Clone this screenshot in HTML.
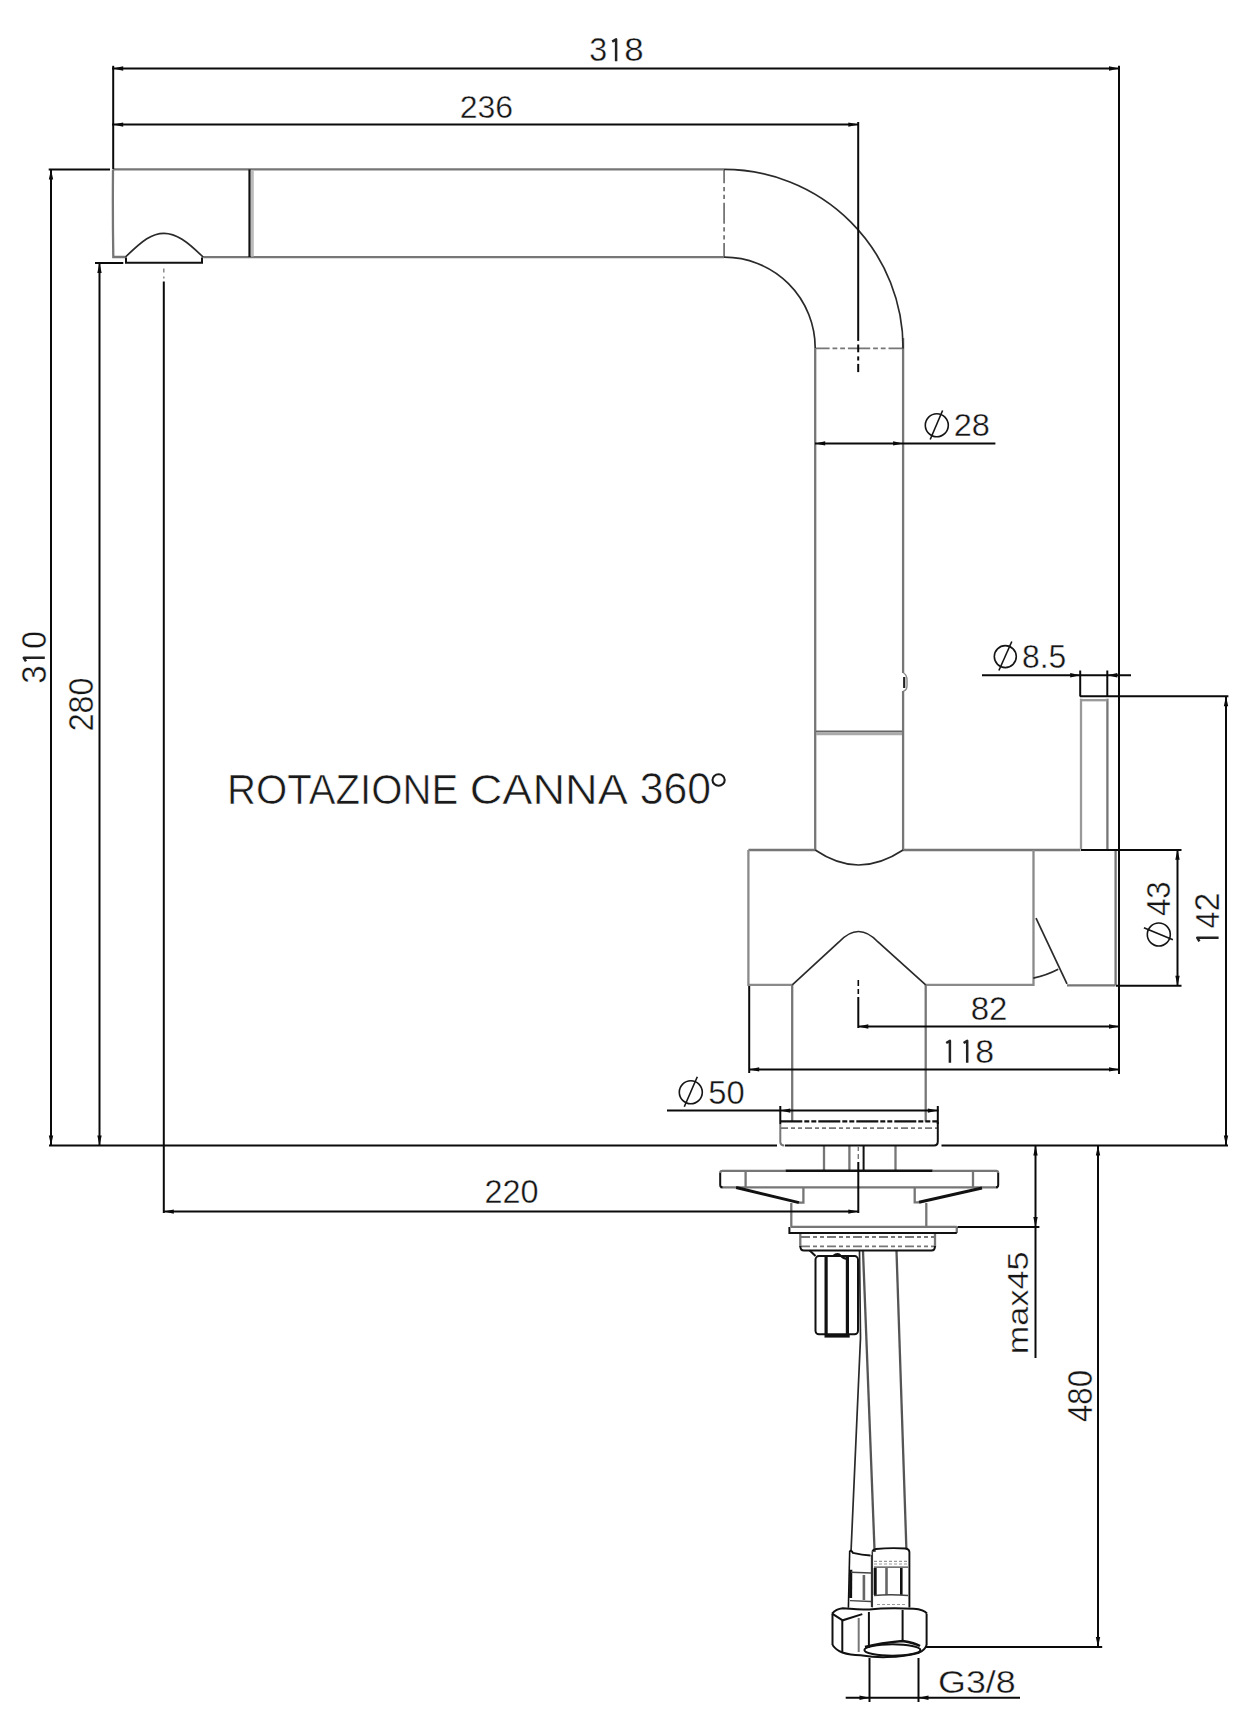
<!DOCTYPE html>
<html><head><meta charset="utf-8"><style>
html,body{margin:0;padding:0;background:#fff;}
svg{display:block;}
text{font-family:"Liberation Sans",sans-serif;font-size:100px;fill:#151515;}
.big{fill:#1a1a1a;}
.d{stroke:#0a0a0a;stroke-width:2;fill:none;}
.p{stroke:#767676;stroke-width:2.3;fill:none;}
.pc{stroke:#2a2a2a;stroke-width:1.7;fill:none;}
.k{stroke:#111;stroke-width:2;fill:none;}
.phi ellipse,.phi line{stroke:#151515;stroke-width:1.6;fill:none;}
.ar{fill:#0a0a0a;stroke:none;}
.one{stroke:#222;stroke-width:2.5;fill:none;stroke-linejoin:round;}
</style></head><body>
<svg width="1240" height="1714" viewBox="0 0 1240 1714">
<rect width="1240" height="1714" fill="#fff"/>
<g class="p">
<!-- spout -->
<line x1="113" y1="169.4" x2="724" y2="169.4"/>
<path d="M113,169.4 Q112.6,213 113.3,257 H125.5"/>
<line x1="203.2" y1="257.2" x2="724" y2="257.2"/>
<line x1="252.3" y1="170" x2="252.3" y2="256.5" stroke="#bbb" stroke-width="3"/>
<line x1="724.1" y1="169.2" x2="724.1" y2="256.8" stroke-dasharray="21 3.6 4.3 3.6 4.3 3.6" stroke-dashoffset="6.9" stroke-width="1.8"/>
<line x1="815" y1="348.4" x2="903" y2="348.4" stroke-dasharray="22.3 2.9 4.8 2.9 4.8 2.9" stroke-dashoffset="7.7" stroke-width="1.8"/>
<!-- tube -->
<line x1="815.2" y1="348" x2="815.2" y2="850"/>
<line x1="903.1" y1="338" x2="903.1" y2="673"/>
<line x1="903.1" y1="691" x2="903.1" y2="850"/>
<line x1="816" y1="731.5" x2="902" y2="731.5" stroke="#666" stroke-width="2"/>
<line x1="816" y1="734" x2="902" y2="734" stroke="#aaa" stroke-width="2.5"/>
<!-- body -->
<path d="M748.4,850 H815 M903,850 H1080.5"/>
<path d="M748.4,850 V984.8 H792.3 M925.7,984.8 H1033.5 V850" stroke="#8a8a8a"/>
<line x1="1115.6" y1="850" x2="1115.6" y2="985"/>
<line x1="1067" y1="985.3" x2="1115.6" y2="985.3"/>
<!-- handle -->
<line x1="1081" y1="698.7" x2="1081" y2="849" stroke="#999"/>
<line x1="1107.4" y1="698.7" x2="1107.4" y2="849"/>
<line x1="1081" y1="700.2" x2="1107.4" y2="700.2" stroke="#999"/>
<!-- stem -->
<line x1="792.2" y1="985" x2="792.2" y2="1121.5"/>
<line x1="925.7" y1="985" x2="925.7" y2="1121.5"/>
<!-- under counter -->
<line x1="824" y1="1146" x2="824" y2="1170"/>
<line x1="849.4" y1="1146" x2="849.4" y2="1170"/>
<line x1="895.5" y1="1146" x2="895.5" y2="1170"/>
<path d="M785.5,1170.8 H722.5 Q720.2,1170.8 720.2,1173"/>
<path d="M932.6,1170.8 H996 Q998.2,1170.8 998.2,1173"/>
<line x1="720.5" y1="1187.3" x2="998" y2="1187.3"/>
<line x1="745.6" y1="1171" x2="745.6" y2="1187"/>
<line x1="973" y1="1171" x2="973" y2="1187"/>
<path d="M803.4,1188 V1202.6 H799"/>
<path d="M914.7,1188 V1202.4 H919"/>
<line x1="791.3" y1="1203" x2="791.3" y2="1227"/>
<line x1="926.3" y1="1203" x2="926.3" y2="1227"/>
<line x1="791" y1="1226.8" x2="956.8" y2="1226.8"/>
<line x1="956.8" y1="1226.8" x2="956.8" y2="1233"/>
<line x1="801" y1="1237" x2="934" y2="1237" stroke-dasharray="9 3 4 3 4 3" stroke-width="1.8"/>
<line x1="801" y1="1246.4" x2="934" y2="1246.4" stroke-dasharray="9 3 4 3 4 3" stroke-width="1.8"/>
<line x1="800.3" y1="1233" x2="800.3" y2="1247"/>
<line x1="935" y1="1233" x2="935" y2="1247"/>
<!-- hose -->
<line x1="863" y1="1251" x2="874.6" y2="1552" stroke="#555"/>
<line x1="896.5" y1="1251" x2="906.4" y2="1549.5" stroke="#555"/>
<!-- ring dashed -->
<line x1="781" y1="1128.2" x2="937" y2="1128.2" stroke-dasharray="7 3 4 3 4 3" stroke-width="1.8"/>
</g>
<g class="pc">
<!-- aerator -->
<path d="M125.5,257 C143,240 152,233.3 164,233.3 C176,233.3 187,241 203.2,257.2"/>
<path d="M724,169.4 A179,179 0 0 1 903.1,348.4"/>
<path d="M724,257.2 A90.8,90.8 0 0 1 815.2,348"/>
<path d="M815.2,850 C830,860 845,865 858.5,865 C872,865 888,860 903.1,850"/>
<path d="M792.3,984.8 L839,942 Q858.5,921 878,942 L925.7,984.8"/>
<line x1="1036" y1="918.2" x2="1067" y2="983.9"/>
<path d="M1033.3,978.1 Q1046,975.5 1058.2,969.2"/>
<path d="M903.5,673 Q907,675 907,680 V686 Q907,690 903.5,691" stroke="#888" stroke-width="1.4"/>
<line x1="904.2" y1="677" x2="904.2" y2="688" stroke="#222" stroke-width="2.2"/>
<!-- hose line A -->
<path d="M859.5,1251 L860.5,1338 L851,1552"/>
</g>
<g class="k">
<line x1="249.5" y1="169.4" x2="249.5" y2="257" stroke-width="2.2"/>
<path d="M126,257.5 V262.8 H202 V257.5"/>
<!-- base ring -->
<path d="M780.3,1124 V1141.5 Q780.3,1145.5 784.3,1145.5" stroke="#777"/>
<path d="M785,1145.5 H934 Q937.8,1145.5 937.8,1141.5 V1122"/>
<line x1="780.3" y1="1121.4" x2="937.8" y2="1121.4" stroke-dasharray="22 2 5 2 5 2" stroke-width="2.4"/>
<line x1="863.6" y1="1146" x2="863.6" y2="1170"/>
<line x1="785.5" y1="1170.8" x2="932.6" y2="1170.8" stroke-width="2.4"/>
<path d="M720.2,1173 V1185 Q720.2,1187.3 722.5,1187.3"/>
<path d="M998.2,1173 V1185 Q998.2,1187.3 996,1187.3"/>
<path d="M736.1,1187.5 L799,1202.6" stroke-width="3"/>
<path d="M982,1188 L919,1202.2" stroke-width="3"/>
<path d="M789.4,1227 V1233 H956.8"/>
<path d="M800.3,1246 Q800.3,1250.5 804,1250.5 H931.5 Q935,1250.5 935,1246"/>
<!-- stud -->
<path d="M809.7,1250.5 L815.5,1256"/>
<rect x="815.5" y="1256.1" width="42.5" height="78.1" rx="3.5"/>
<line x1="826.1" y1="1257" x2="826.1" y2="1334" stroke-width="3.2"/>
<line x1="847.4" y1="1257" x2="847.4" y2="1334" stroke-width="3.2"/>
<line x1="824.5" y1="1336.1" x2="849.7" y2="1336.1" stroke-width="3"/>
<path d="M833,1256 Q838,1252 841,1256 Q844,1259 848,1259"/>
</g>
<!-- fittings -->
<g class="k" stroke-width="1.8">
<!-- left ferrule -->
<path d="M849.7,1551 Q851,1550 852.9,1552.9 Q862,1555 870.5,1555.5"/>
<path d="M849.7,1551 L848.4,1607.7" stroke-width="1.6"/>
<line x1="850.8" y1="1569.7" x2="850.6" y2="1598" stroke-width="3"/>
<line x1="871.6" y1="1555" x2="871.6" y2="1607" stroke="#333" stroke-width="1.5"/>
<line x1="851" y1="1572.3" x2="871" y2="1573" stroke="#444" stroke-width="1.4"/>
<line x1="863.9" y1="1575" x2="863.9" y2="1600" stroke="#666" stroke-width="2.6"/>
<line x1="850" y1="1600.6" x2="871" y2="1601.5" stroke="#444" stroke-width="1.4"/>
<!-- right ferrule -->
<path d="M872.3,1551.6 Q873,1549.5 876,1549 Q890,1547.5 906,1548.5 Q909.4,1549.5 909.4,1552 V1607.4" stroke-width="1.9"/>
<line x1="872.3" y1="1551.6" x2="872.3" y2="1607.4" stroke="#333" stroke-width="1.5"/>
<line x1="874" y1="1561.3" x2="908" y2="1561.3" stroke="#999" stroke-width="1.2" stroke-dasharray="3 2"/>
<line x1="874" y1="1564" x2="908" y2="1564" stroke="#999" stroke-width="1.2" stroke-dasharray="3 2"/>
<line x1="874" y1="1567.1" x2="908" y2="1567.1" stroke="#444" stroke-width="1.4"/>
<line x1="875.2" y1="1568" x2="875.2" y2="1595" stroke-width="3"/>
<line x1="886.5" y1="1568" x2="886.5" y2="1595" stroke="#666" stroke-width="2.6"/>
<line x1="901.3" y1="1568" x2="901.3" y2="1595" stroke-width="2.6"/>
<path d="M874,1595.5 Q890,1594 908,1595.5" stroke="#444" stroke-width="1.4"/>
<line x1="877" y1="1604.5" x2="906" y2="1604.5" stroke="#999" stroke-width="1.2" stroke-dasharray="3 2"/>
<!-- hex nut -->
<path d="M832.1,1613.6 Q836,1609 842.7,1608.3 Q858,1609.5 869.4,1609.6 Q887,1607.5 913.7,1608.8 Q924,1609.5 927,1613.6"/>
<path d="M832.1,1613.6 L842.7,1620.3 L862.3,1614.1"/>
<line x1="832.5" y1="1613.6" x2="832.5" y2="1645"/>
<line x1="842.3" y1="1620.3" x2="842.3" y2="1652"/>
<line x1="858.7" y1="1618" x2="858.7" y2="1652" stroke="#777"/>
<line x1="868.9" y1="1612" x2="868.9" y2="1648"/>
<line x1="902.6" y1="1610" x2="902.6" y2="1641"/>
<line x1="926.6" y1="1614" x2="926.6" y2="1645"/>
<path d="M832.5,1645 Q836,1650 842.3,1652.5 Q850,1655 860.5,1655.3 Q875,1657.5 887,1657.1 Q905,1656.5 919,1652.7 Q925,1650 926.6,1645"/>
<ellipse cx="892.4" cy="1650" rx="28" ry="5.8"/>
<path d="M865,1647 Q880,1643 902.6,1641 Q915,1643 920,1646" stroke-width="2.6"/>
</g>

<g class="d">
<!-- 318 -->
<line x1="112" y1="68.5" x2="1120" y2="68.5"/>
<line x1="113.2" y1="65.8" x2="113.2" y2="169"/>
<line x1="1119" y1="65.8" x2="1119" y2="1074"/>
<!-- 236 -->
<line x1="112" y1="124.6" x2="859" y2="124.6"/>
<line x1="858.2" y1="122" x2="858.2" y2="340.9"/>
<line x1="858.2" y1="344.5" x2="858.2" y2="352.3"/>
<line x1="858.2" y1="356.4" x2="858.2" y2="360.5"/>
<line x1="858.2" y1="363.9" x2="858.2" y2="372.1"/>
<!-- 310 -->
<line x1="48.7" y1="169.4" x2="110" y2="169.4"/>
<line x1="51" y1="169.4" x2="51" y2="1145.3"/>
<!-- 280 -->
<line x1="95" y1="263" x2="123.3" y2="263"/>
<line x1="99.5" y1="263" x2="99.5" y2="1145.3"/>
<!-- baseline -->
<line x1="49" y1="1145.4" x2="777" y2="1145.4"/>
<line x1="941.5" y1="1145.4" x2="1228" y2="1145.4"/>
<!-- center line -->
<line x1="163.8" y1="281.5" x2="163.8" y2="1213"/>
<line x1="163.8" y1="268.4" x2="163.8" y2="272.5" stroke-width="1.5" stroke="#888"/>
<line x1="163.8" y1="276.6" x2="163.8" y2="278.6" stroke-width="1.5" stroke="#888"/>
<!-- 220 -->
<line x1="163" y1="1211.6" x2="859" y2="1211.6"/>
<line x1="858.3" y1="1146" x2="858.3" y2="1151" stroke-width="1.4" stroke="#777"/>
<line x1="858.3" y1="1154" x2="858.3" y2="1159" stroke-width="1.4" stroke="#777"/>
<line x1="858.3" y1="1162" x2="858.3" y2="1213"/>
<!-- phi 28 -->
<line x1="815" y1="443.4" x2="995.4" y2="443.4"/>
<!-- phi 8.5 -->
<line x1="982" y1="675.2" x2="1131" y2="675.2"/>
<line x1="1080.2" y1="670.5" x2="1080.2" y2="696.5"/>
<line x1="1107.3" y1="670.5" x2="1107.3" y2="696.5"/>
<!-- 142 -->
<line x1="1080" y1="696.3" x2="1228.4" y2="696.3"/>
<line x1="1226" y1="696.3" x2="1226" y2="1145.4"/>
<!-- phi 43 -->
<line x1="1081" y1="849.9" x2="1181.5" y2="849.9"/>
<line x1="1116" y1="985.8" x2="1181.5" y2="985.8"/>
<line x1="1177.5" y1="849.8" x2="1177.5" y2="985.8"/>
<!-- 82 -->
<line x1="858" y1="1026.5" x2="1119" y2="1026.5"/>
<line x1="858.3" y1="980" x2="858.3" y2="986" stroke-width="1.6"/>
<line x1="858.3" y1="989" x2="858.3" y2="994" stroke-width="1.6"/>
<line x1="858.3" y1="997" x2="858.3" y2="1028"/>
<!-- 118 -->
<line x1="749" y1="1069.4" x2="1119" y2="1069.4"/>
<line x1="749.2" y1="986" x2="749.2" y2="1073"/>
<!-- phi 50 -->
<line x1="667" y1="1110.6" x2="938.5" y2="1110.6"/>
<line x1="780.3" y1="1106" x2="780.3" y2="1124"/>
<line x1="937.8" y1="1106" x2="937.8" y2="1124"/>
<!-- max45 -->
<line x1="957.6" y1="1226.9" x2="1039.4" y2="1226.9"/>
<line x1="1035.5" y1="1145.4" x2="1035.5" y2="1358"/>
<!-- 480 -->
<line x1="1098" y1="1145.4" x2="1098" y2="1647"/>
<line x1="926" y1="1647" x2="1102.2" y2="1647"/>
<!-- G3/8 -->
<line x1="845.7" y1="1697.7" x2="1020" y2="1697.7"/>
<line x1="869.5" y1="1658" x2="869.5" y2="1702"/>
<line x1="918.5" y1="1658" x2="918.5" y2="1702"/>
</g>
<polygon class="ar" points="113.2,68.5 123.2,66.3 123.2,70.7"/><polygon class="ar" points="1119.0,68.5 1109.0,66.3 1109.0,70.7"/><polygon class="ar" points="113.2,124.6 123.2,122.4 123.2,126.8"/><polygon class="ar" points="858.3,124.6 848.3,122.4 848.3,126.8"/><polygon class="ar" points="51.0,169.4 48.8,179.4 53.2,179.4"/><polygon class="ar" points="51.0,1145.4 48.8,1135.4 53.2,1135.4"/><polygon class="ar" points="99.5,263.0 97.3,273.0 101.7,273.0"/><polygon class="ar" points="99.5,1145.4 97.3,1135.4 101.7,1135.4"/><polygon class="ar" points="815.2,443.4 825.2,441.2 825.2,445.6"/><polygon class="ar" points="903.1,443.4 893.1,441.2 893.1,445.6"/><polygon class="ar" points="1080.2,675.2 1070.2,673.0 1070.2,677.4"/><polygon class="ar" points="1107.3,675.2 1117.3,673.0 1117.3,677.4"/><polygon class="ar" points="1226.0,696.3 1223.8,706.3 1228.2,706.3"/><polygon class="ar" points="1226.0,1145.4 1223.8,1135.4 1228.2,1135.4"/><polygon class="ar" points="1177.5,849.8 1175.3,859.8 1179.7,859.8"/><polygon class="ar" points="1177.5,985.8 1175.3,975.8 1179.7,975.8"/><polygon class="ar" points="858.3,1026.5 868.3,1024.3 868.3,1028.7"/><polygon class="ar" points="1119.0,1026.5 1109.0,1024.3 1109.0,1028.7"/><polygon class="ar" points="749.2,1069.4 759.2,1067.2 759.2,1071.6"/><polygon class="ar" points="1119.0,1069.4 1109.0,1067.2 1109.0,1071.6"/><polygon class="ar" points="780.3,1110.6 790.3,1108.4 790.3,1112.8"/><polygon class="ar" points="937.8,1110.6 927.8,1108.4 927.8,1112.8"/><polygon class="ar" points="163.8,1211.6 173.8,1209.4 173.8,1213.8"/><polygon class="ar" points="858.3,1211.6 848.3,1209.4 848.3,1213.8"/><polygon class="ar" points="1035.5,1145.4 1033.3,1155.4 1037.7,1155.4"/><polygon class="ar" points="1035.5,1226.9 1033.3,1216.9 1037.7,1216.9"/><polygon class="ar" points="1098.0,1145.4 1095.8,1155.4 1100.2,1155.4"/><polygon class="ar" points="1098.0,1647.0 1095.8,1637.0 1100.2,1637.0"/><polygon class="ar" points="869.5,1697.7 859.5,1695.5 859.5,1699.9"/><polygon class="ar" points="918.5,1697.7 928.5,1695.5 928.5,1699.9"/>
<g class="phi"><ellipse cx="936.8" cy="425.3" rx="11.5" ry="11.5"/><line x1="942.6" y1="410.5" x2="930.2" y2="439.5"/></g><g class="phi"><ellipse cx="1005.3" cy="656.6" rx="11.0" ry="11.0"/><line x1="1011.8" y1="641.5" x2="998.9" y2="670.5"/></g><g class="phi"><ellipse cx="690.8" cy="1092.3" rx="11.5" ry="11.5"/><line x1="697.3" y1="1076.8" x2="684.3" y2="1106.7"/></g><g class="phi"><ellipse cx="1158.8" cy="934.5" rx="11.5" ry="11.5"/><line x1="1143.9" y1="927.7" x2="1172.9" y2="939.8"/></g>
<text transform="translate(589.26,61.17) scale(0.3223,0.3268)" stroke="#fff" stroke-width="1.23" >3</text>
<text transform="translate(624.15,61.17) scale(0.3489,0.3268)" stroke="#fff" stroke-width="1.18" >8</text>
<text transform="translate(459.70,117.58) scale(0.3197,0.3225)" stroke="#fff" stroke-width="1.25" >236</text>
<text transform="translate(953.67,436.48) scale(0.3255,0.3211)" stroke="#fff" stroke-width="1.24" >28</text>
<text transform="translate(1021.93,667.77) scale(0.3183,0.3324)" stroke="#fff" stroke-width="1.23" >8.5</text>
<text transform="translate(226.99,803.67) scale(0.4016,0.4268)" stroke="#fff" stroke-width="1.45" class="big">ROTAZIONE</text>
<text transform="translate(469.74,803.67) scale(0.4519,0.4268)" stroke="#fff" stroke-width="1.37" class="big">CANNA</text>
<text transform="translate(639.79,803.86) scale(0.4277,0.4366)" stroke="#fff" stroke-width="1.39" class="big">360</text>
<ellipse cx="718.6" cy="780" rx="6.1" ry="5.7" fill="none" stroke="#1a1a1a" stroke-width="2.1"/>
<text transform="translate(1170.38,916.02) rotate(-90) scale(0.3114,0.3239)" stroke="#fff" stroke-width="1.26" >43</text>
<text transform="translate(1218.94,928.41) rotate(-90) scale(0.3039,0.3353)" stroke="#fff" stroke-width="1.25" >4</text>
<text transform="translate(1219.10,911.60) rotate(-90) scale(0.3391,0.3429)" stroke="#fff" stroke-width="1.17" >2</text>
<text transform="translate(970.68,1020.37) scale(0.3304,0.3282)" stroke="#fff" stroke-width="1.21" >82</text>
<text transform="translate(975.25,1062.67) scale(0.3383,0.3268)" stroke="#fff" stroke-width="1.20" >8</text>
<text transform="translate(708.19,1103.77) scale(0.3272,0.3324)" stroke="#fff" stroke-width="1.21" >50</text>
<text transform="translate(484.38,1202.57) scale(0.3241,0.3338)" stroke="#fff" stroke-width="1.22" >220</text>
<text transform="translate(1028.10,1354.20) rotate(-90) scale(0.3426,0.3029)" stroke="#fff" stroke-width="1.24" >max45</text>
<text transform="translate(1092.05,1422.03) rotate(-90) scale(0.3130,0.3507)" stroke="#fff" stroke-width="1.21" >480</text>
<text transform="translate(938.01,1693.28) scale(0.3589,0.3216)" stroke="#fff" stroke-width="1.18" >G3/8</text>
<text transform="translate(45.94,648.90) rotate(-90) scale(0.3250,0.3563)" stroke="#fff" stroke-width="1.17" >0</text>
<text transform="translate(45.94,683.82) rotate(-90) scale(0.3298,0.3563)" stroke="#fff" stroke-width="1.17" >3</text>
<text transform="translate(92.86,731.31) rotate(-90) scale(0.3215,0.3423)" stroke="#fff" stroke-width="1.21" >280</text>
<path class="one" d="M612.2,41.6 L616.1,39.4 L616.1,61.3"/>
<path class="one" d="M1199.4,941.4 L1197.2,937.7 L1218.6,937.7"/>
<path class="one" d="M946.2,1043 L949.9,1040.9 L949.9,1062.8"/>
<path class="one" d="M963.6,1043 L967.2,1040.9 L967.2,1062.8"/>
<path class="one" d="M26,661.3 L23.8,657.8 L44.8,657.8"/>
</svg></body></html>
